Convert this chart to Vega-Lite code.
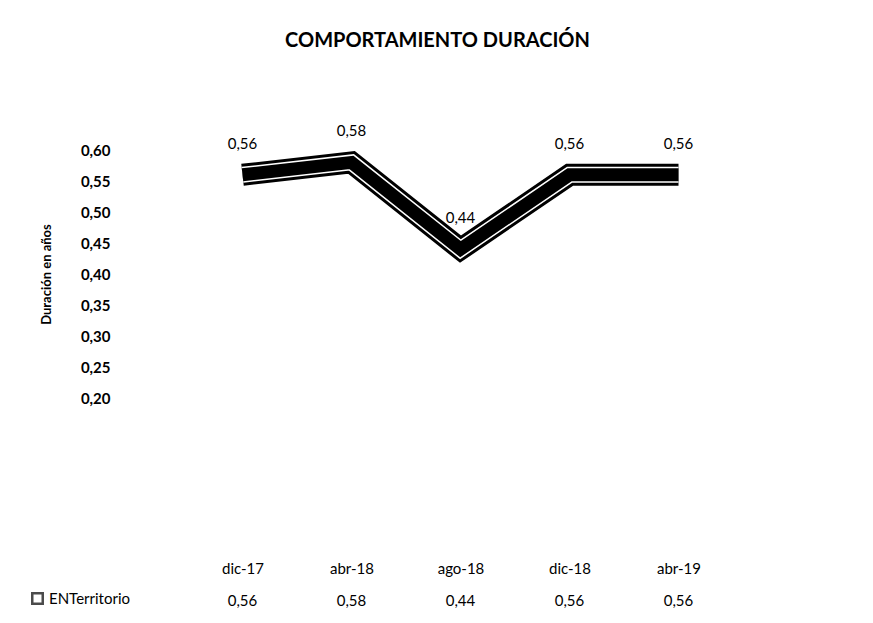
{
  "$schema": "https://vega.github.io/schema/vega-lite/v6.json",
  "padding": {"left": 30, "top": 31, "right": 10, "bottom": 5},
  "background": "white",
  "config": {"font": "Lato", "view": {"stroke": null}, "concat": {"spacing": 15},
    "locale": {"number": {"decimal": ",", "thousands": ".", "grouping": [3], "currency": ["", " €"]}}},
  "datasets": {
    "d": [
      {"mes": "dic-17", "valor": 0.56, "serie": "ENTerritorio"},
      {"mes": "abr-18", "valor": 0.58, "serie": "ENTerritorio"},
      {"mes": "ago-18", "valor": 0.44, "serie": "ENTerritorio"},
      {"mes": "dic-18", "valor": 0.56, "serie": "ENTerritorio"},
      {"mes": "abr-19", "valor": 0.56, "serie": "ENTerritorio"}
    ]
  },
  "resolve": {"scale": {"color": "independent"}, "legend": {"color": "independent"}},
  "vconcat": [
    {
      "width": 545,
      "height": 248,
      "title": {"text": "COMPORTAMIENTO DURACIÓN", "fontSize": 20, "fontWeight": "bold", "anchor": "middle", "offset": 67, "dx": -23, "color": "black"},
      "data": {"name": "d"},
      "encoding": {
        "x": {"field": "mes", "type": "ordinal", "sort": null, "title": null,
          "axis": {"orient": "bottom", "offset": 155, "labelPadding": 8, "domain": false, "ticks": false, "labelAngle": 0, "labelFontSize": 15, "labelColor": "black"}},
        "y": {"field": "valor", "type": "quantitative", "title": "Duración en años",
          "scale": {"domain": [0.2, 0.6], "nice": false, "zero": false},
          "axis": {"values": [0.2, 0.25, 0.3, 0.35, 0.4, 0.45, 0.5, 0.55, 0.6], "format": ".2f", "offset": 72, "labelPadding": 6, "domain": false, "ticks": false, "grid": false, "labelFontSize": 15, "labelFontWeight": "bold", "labelColor": "black", "titleFontSize": 13, "titleFontWeight": "bold", "titleColor": "black", "titlePadding": 27}}
      },
      "layer": [
        {"mark": {"type": "line", "color": "black", "strokeWidth": 22, "strokeJoin": "miter"}},
        {"mark": {"type": "line", "color": "white", "strokeWidth": 16, "strokeJoin": "miter"}},
        {"mark": {"type": "line", "color": "black", "strokeWidth": 13, "strokeJoin": "miter"}},
        {"mark": {"type": "text", "dy": -31, "fontSize": 15, "color": "black"},
          "encoding": {"text": {"field": "valor", "type": "quantitative", "format": ".2f"}}}
      ]
    },
    {
      "width": 545,
      "height": 20,
      "data": {"name": "d"},
      "encoding": {
        "x": {"field": "mes", "type": "ordinal", "sort": null, "axis": null}
      },
      "layer": [
        {"mark": {"type": "point", "shape": "square", "filled": false, "size": 0, "strokeWidth": 2.5},
          "encoding": {
            "color": {"field": "serie", "type": "nominal", "scale": {"range": ["black"]},
              "legend": {"orient": "left", "title": null, "offset": 58, "labelFontSize": 15, "labelColor": "black", "symbolType": "square", "symbolSize": 110, "symbolStrokeWidth": 2.5}}
          }},
        {"mark": {"type": "text", "fontSize": 15, "color": "black"},
          "encoding": {"text": {"field": "valor", "type": "quantitative", "format": ".2f"}}}
      ]
    }
  ]
}
